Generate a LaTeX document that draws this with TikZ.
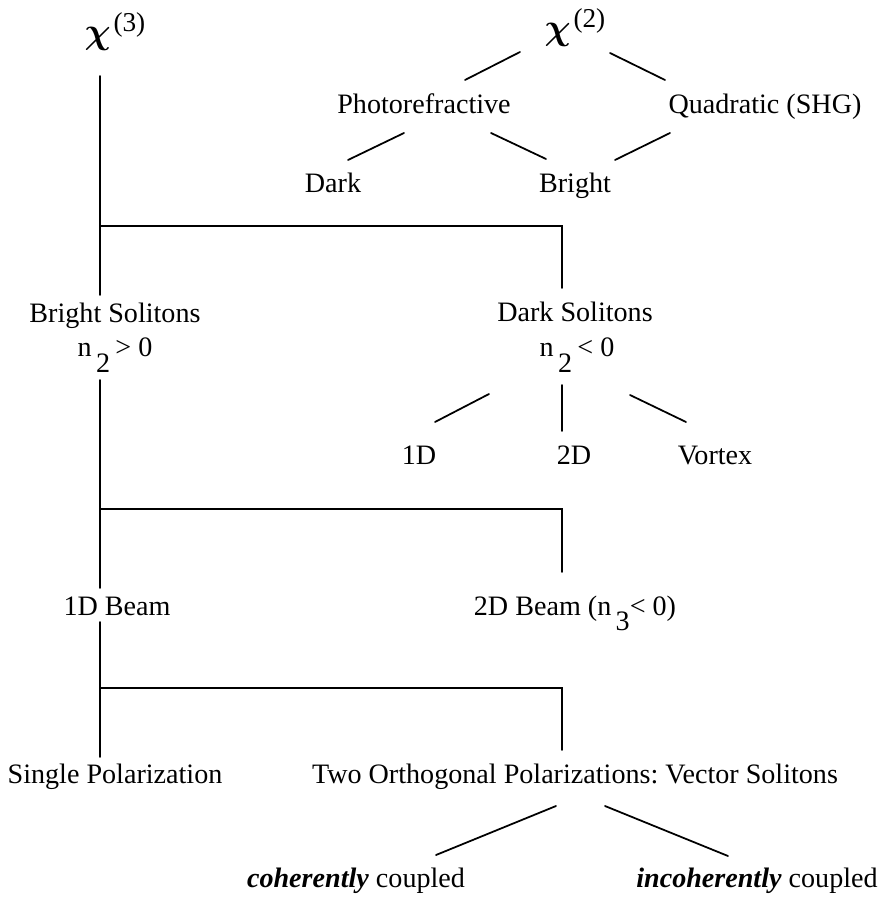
\documentclass[tikz,border=0pt]{standalone}
\usepackage{fontspec}
\setmainfont{Liberation Serif}
\usetikzlibrary{calc}
\frenchspacing

\newcommand{\nsub}[1]{\hspace{2.5pt}\raisebox{-9pt}{#1}}
\newcommand{\chiorder}[1]{{\fontsize{20}{20}\selectfont\boldmath$\chi$}\hspace{1.5pt}\raisebox{7pt}{\fontsize{15.5}{15.5}\selectfont(#1)}}

\begin{document}
\begin{tikzpicture}[
    x=0.02cm, y=-0.02cm,
    lbl/.style={inner sep=0pt, outer sep=0pt, anchor=base,
                font=\fontsize{16}{19}\selectfont},
    link/.style={line width=1pt, line cap=round},
  ]
    \fill[white] (0,0) rectangle (882,901);
    \useasboundingbox (0,0) rectangle (882,901);

    \node[lbl] (chi3)   at (115,44)  {\chiorder{3}};
    \node[lbl] (chi2)   at (575,40)  {\chiorder{2}};
    \node[lbl] (photo)  at (424,114) {Photorefractive};
    \node[lbl] (quad)   at (765,114) {Quadratic (SHG)};
    \node[lbl] (dark)   at (333,193) {Dark};
    \node[lbl] (bright) at (575,193) {Bright};

    \node[lbl] (bsol)   at (115,323) {Bright Solitons};
    \node[lbl] (bn2)    at (115,357) {n\nsub{2}\hspace{3pt}> 0};
    \node[lbl] (dsol)   at (575,322) {Dark Solitons};
    \node[lbl] (dn2)    at (577,357) {n\nsub{2}\hspace{3pt}< 0};
    \node[lbl] (d1)     at (419,464) {1D};
    \node[lbl] (d2)     at (574,464) {2D};
    \node[lbl] (vortex) at (715,464) {Vortex};

    \node[lbl] (beam1)  at (117,615) {1D Beam};
    \node[lbl] (beam2)  at (575,615) {2D Beam (n\nsub{3}< 0)};

    \node[lbl] (single) at (115,783) {Single Polarization};
    \node[lbl] (two)    at (575,783) {Two Orthogonal Polarizations: Vector Solitons};
    \node[lbl] (coh)    at (356,887) {\textbf{\textit{coherently}} coupled};
    \node[lbl] (incoh)  at (757,887) {\textbf{\textit{incoherently}} coupled};

    % branch points
    \coordinate (j1) at (100,226); \coordinate (k1) at (562,226);
    \coordinate (j2) at (100,509); \coordinate (k2) at (562,509);
    \coordinate (j3) at (100,688); \coordinate (k3) at (562,688);

    % chi(3) trunk
    \draw[link] ($(chi3.base -| j1)+(0,32)$) -- (j1) -- (k1) -- ($(dsol.base -| k1)+(0,-34)$);
    \draw[link] (j1) -- ($(bsol.base -| j1)+(0,-28)$);
    \draw[link] ($(bn2.base -| j2)+(0,23)$) -- (j2) -- (k2) -- ($(beam2.base -| k2)+(0,-43)$);
    \draw[link] (j2) -- ($(beam1.base -| j2)+(0,-27)$);
    \draw[link] ($(beam1.base -| j3)+(0,7)$) -- (j3) -- (k3) -- ($(two.base -| k3)+(0,-33)$);
    \draw[link] (j3) -- ($(single.base -| j3)+(0,-26)$);

    % chi(2) tree
    \draw[link] ($(chi2.base)+(-55,12)$) -- ($(photo.base)+(41,-34)$);
    \draw[link] ($(chi2.base)+(35,13)$) -- ($(quad.base)+(-100,-34)$);
    \draw[link] ($(photo.base)+(-20,19)$) -- ($(dark.base)+(15,-33)$);
    \draw[link] ($(photo.base)+(67,19)$) -- ($(bright.base)+(-29,-34)$);
    \draw[link] ($(quad.base)+(-95,19)$) -- ($(bright.base)+(40,-33)$);

    % dark soliton kinds
    \draw[link] ($(dn2.base)+(-88,37)$) -- ($(d1.base)+(16,-42)$);
    \draw[link] ($(dn2.base -| k1)+(0,28)$) -- ($(d2.base -| k1)+(0,-33)$);
    \draw[link] ($(dn2.base)+(53,38)$) -- ($(vortex.base)+(-29,-42)$);

    % vector solitons
    \draw[link] ($(two.base)+(-19,23)$) -- ($(coh.base)+(80,-32)$);
    \draw[link] ($(two.base)+(30,23)$) -- ($(incoh.base)+(-29,-31)$);
\end{tikzpicture}
\end{document}
